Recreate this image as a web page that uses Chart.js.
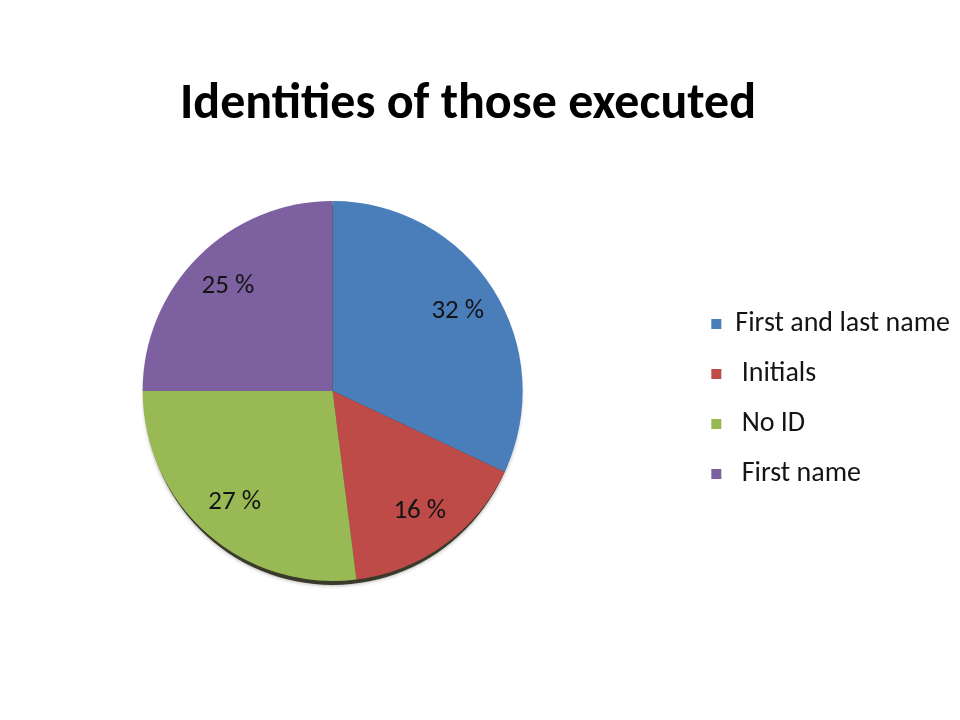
<!DOCTYPE html>
<html>
<head>
<meta charset="utf-8">
<script src="https://cdn.jsdelivr.net/npm/chart.js@4"></script>
<style>
  html, body { margin: 0; padding: 0; background: #fff; overflow: hidden; }
  #wrap { width: 960px; height: 720px; overflow: hidden; position: relative; }
  /* canvas is a bit wider and shifted left so the pie sits where the original has it */
  #identityChart { position: absolute; left: -24px; top: 0; }
</style>
</head>
<body>
<div id="wrap"><canvas id="identityChart" width="984" height="720"></canvas></div>
<script>
// chart data
const categories = ['First and last name', ' Initials', ' No ID', ' First name'];
const shares = [32, 16, 27, 25];
const sliceColors = ['#4A7EBB', '#BE4B48', '#98B954', '#7D60A0'];

const FONT = 'Carlito, Lato, "Open Sans", sans-serif';

// soft shadow under the whole pie (gives the tilted look)
const pieShadow = {
    id: 'pieShadow',
    beforeDatasetsDraw(chart) {
        const arc = chart.getDatasetMeta(0).data[0];
        if (!arc) return;
        const { x, y, outerRadius } = arc.getProps(['x', 'y', 'outerRadius'], true);
        const ctx = chart.ctx;
        ctx.save();
        ctx.fillStyle = '#3a3a2a';
        ctx.shadowColor = 'rgba(0,0,0,0.4)';
        ctx.shadowBlur = 4;
        ctx.beginPath();
        ctx.ellipse(x, y + 4, outerRadius - 2, outerRadius, 0, 0, Math.PI * 2);
        ctx.fill();
        ctx.restore();
    }
};

// percent labels inside slices
const sliceLabels = {
    id: 'sliceLabels',
    afterDatasetsDraw(chart) {
        const ctx = chart.ctx;
        const meta = chart.getDatasetMeta(0);
        ctx.save();
        ctx.font = '27px ' + FONT;
        ctx.fillStyle = '#141414';
        ctx.textAlign = 'center';
        ctx.textBaseline = 'middle';
        meta.data.forEach((arc, i) => {
            const p = arc.getProps(['x', 'y', 'startAngle', 'endAngle', 'outerRadius'], true);
            const mid = (p.startAngle + p.endAngle) / 2;
            const r = p.outerRadius * 0.78;
            ctx.fillText(shares[i] + ' %', p.x + Math.cos(mid) * r, p.y + Math.sin(mid) * r);
        });
        ctx.restore();
    }
};

const ctx = document.getElementById('identityChart').getContext('2d');
new Chart(ctx, {
    type: 'pie',
    data: {
        labels: categories,
        datasets: [{
            data: shares,
            backgroundColor: sliceColors,
            borderWidth: 0
        }]
    },
    options: {
        responsive: false,
        animation: false,
        layout: { padding: { top: 75, bottom: 139, left: 0, right: 0 } },
        plugins: {
            title: {
                display: true,
                text: 'Identities of those executed',
                color: '#000',
                font: { family: FONT, size: 50, weight: 'bold' },
                padding: { top: 0, bottom: 66 }
            },
            legend: {
                position: 'right',
                fullSize: false,
                title: { display: true, text: ' ', font: { size: 6, lineHeight: 1 }, padding: 5 },
                labels: {
                    color: '#141414',
                    font: { family: FONT, size: 28 },
                    boxWidth: 10,
                    boxHeight: 10,
                    padding: 22
                }
            },
            tooltip: { enabled: false }
        }
    },
    plugins: [pieShadow, sliceLabels]
});
</script>
</body>
</html>
